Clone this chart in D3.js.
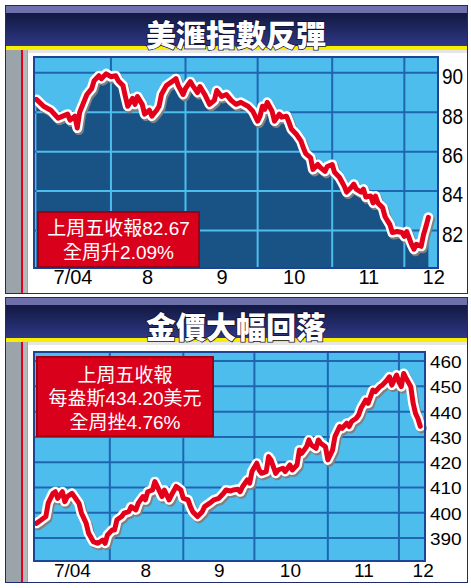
<!DOCTYPE html>
<html>
<head>
<meta charset="utf-8">
<script src="https://cdn.jsdelivr.net/npm/d3@7"></script>
<style>
  body { margin: 0; background: #fff; }
  svg { display: block; }
</style>
</head>
<body>
<div id="chart"></div>
<script>
// ---- data ----
const usdDates = ["7/1","7/4","7/7","7/10","7/12","7/14","7/15","7/17","7/18","7/19","7/21","7/22","7/24","7/25","7/27","7/28","7/30",
  "8/1","8/3","8/4","8/6","8/7","8/8","8/10","8/11","8/12","8/14","8/15","8/17","8/18","8/20","8/21","8/22","8/24","8/27","8/28","8/29","8/31",
  "9/1","9/3","9/4","9/6","9/7","9/9","9/11","9/13","9/14","9/16","9/18","9/20","9/22","9/24","9/27","9/29",
  "10/1","10/2","10/3","10/4","10/5","10/7","10/8","10/10","10/11","10/13","10/14","10/15","10/17","10/19","10/20","10/21","10/23","10/24","10/26","10/27","10/29","10/30",
  "11/1","11/2","11/4","11/6","11/7","11/9","11/10","11/11","11/13","11/14","11/15","11/17","11/18","11/19","11/20","11/22","11/23","11/25","11/26","11/28","11/30",
  "12/1","12/2","12/4","12/5","12/6","12/8","12/9","12/10","12/11"];
const usdValues = [88.65,88.3,88.1,87.7,87.8,87.9,87.6,87.8,87.2,88.0,88.6,88.9,89.2,89.6,89.85,89.7,89.95,
  89.8,89.85,89.6,89.35,88.8,88.3,88.7,88.4,88.8,88.4,87.9,88.1,87.8,88.1,88.3,88.9,89.35,89.6,89.7,89.35,88.9,
  89.2,89.55,89.35,89.0,89.3,88.9,88.4,88.6,89.1,88.8,88.9,88.6,88.4,88.5,88.3,88.05,
  87.55,87.8,88.3,88.15,88.5,88.05,87.55,87.9,87.75,87.8,87.5,87.15,86.9,86.55,86.2,85.9,85.7,85.1,85.35,85.2,85.0,85.25,
  85.35,84.95,84.7,84.25,83.95,84.2,84.35,84.1,83.95,84.1,83.7,83.75,83.4,83.75,83.4,83.15,82.7,82.3,81.9,81.95,81.9,
  81.7,81.95,81.3,81.05,81.3,81.2,81.8,82.2,82.67];

const goldDates = ["7/1","7/3","7/5","7/6","7/8","7/9","7/10","7/12","7/13","7/14","7/16","7/17","7/19","7/20","7/22","7/23","7/25","7/27","7/29","7/30","7/31",
  "8/2","8/3","8/4","8/6","8/7","8/9","8/10","8/12","8/13","8/15","8/16","8/17","8/19","8/20","8/21","8/23","8/24","8/26","8/27","8/29","8/31",
  "9/1","9/3","9/4","9/5","9/7","9/9","9/10","9/12","9/14","9/16","9/18","9/19","9/21","9/22","9/24","9/25","9/26","9/28","9/29","9/30",
  "10/2","10/3","10/4","10/6","10/7","10/8","10/10","10/11","10/13","10/14","10/16","10/17","10/19","10/20","10/21","10/23","10/24","10/25","10/27","10/28","10/29","10/31",
  "11/1","11/3","11/4","11/6","11/7","11/9","11/10","11/11","11/13","11/14","11/15","11/17","11/18","11/20","11/21","11/23","11/24","11/26","11/27","11/28","11/30",
  "12/1","12/2","12/3","12/4","12/6","12/7","12/8","12/9","12/10"];
const goldValues = [395.8,397.1,398.5,403.8,407.7,408.3,405.7,408.3,404.4,406.3,407.7,406.4,403.7,399.9,395.9,392.0,388.6,387.9,389.2,387.9,391.2,
  393.2,393.2,397.2,398.5,399.8,400.4,402.4,401.1,403.8,406.4,405.1,408.3,409.0,412.3,410.4,406.4,409.0,405.1,407.0,410.4,409.0,
  405.7,405.1,402.4,400.4,398.5,400.4,402.4,403.7,405.1,405.7,407.7,409.0,408.6,409.0,409.3,408.3,410.3,413.0,411.7,416.3,
  419.6,416.9,415.6,416.3,422.2,420.9,415.6,416.9,417.6,416.3,418.9,416.9,418.9,424.8,423.5,426.1,428.8,426.8,425.5,428.8,427.5,426.1,
  420.9,424.8,430.1,434.1,433.4,435.4,434.1,436.1,437.4,438.7,441.3,444.6,443.3,448.5,447.9,449.9,450.5,452.5,453.8,450.5,454.5,
  451.8,449.9,455.1,453.2,449.9,443.3,439.3,437.3,434.2];

const usdTicks = [82, 84, 86, 88, 90];
const goldTicks = [390, 400, 410, 420, 430, 440, 450, 460];
const monthLabels = ["7/04", "8", "9", "10", "11", "12"];
const usdLabelDates = ["7/16", "8/16", "9/16", "10/16", "11/16", "12/13"];
const goldLabelDates = ["7/16", "8/16", "9/16", "10/16", "11/16", "12/11"];
const gridDates = ["8/1", "9/1", "10/1", "11/1", "12/1"];

const usdTitle = "美滙指數反彈";
const goldTitle = "金價大幅回落";
const usdNote = ["上周五收報82.67", "全周升2.09%"];
const goldNote = ["上周五收報", "每盎斯434.20美元", "全周挫4.76%"];

const parseDay = d3.timeParse("%m/%d/%Y");
const day = s => parseDay(s + "/2004");

const svg = d3.select("#chart").append("svg")
  .attr("width", 471).attr("height", 588);

// title gradient
const defs = svg.append("defs");
const grad = defs.append("linearGradient").attr("id", "titleGrad")
  .attr("x1", 0).attr("y1", 0).attr("x2", 0).attr("y2", 1);
grad.append("stop").attr("offset", "0%").attr("stop-color", "#121840");
grad.append("stop").attr("offset", "100%").attr("stop-color", "#2f3887");

function drawPanel(opt) {
  const g = svg.append("g").attr("transform", `translate(0,${opt.top})`);
  const H = opt.height;

  // frame + background
  g.append("rect").attr("x", 5.5).attr("y", 0.5).attr("width", 462).attr("height", H)
    .attr("fill", "#fff").attr("stroke", "#1d2a6e");
  // title bar
  g.append("rect").attr("x", 6).attr("y", 1).attr("width", 461).attr("height", 7).attr("fill", "#6d70aa");
  g.append("rect").attr("x", 6).attr("y", 8).attr("width", 461).attr("height", opt.barH - 8).attr("fill", "url(#titleGrad)");
  g.append("rect").attr("x", 6).attr("y", opt.barH).attr("width", 461).attr("height", 4).attr("fill", "#f7ee00");
  g.append("rect").attr("x", 28).attr("y", opt.barH + 4).attr("width", 439).attr("height", 3).attr("fill", "#e6e6e6");
  g.append("text")
    .attr("x", 236).attr("y", opt.barH / 2 + 7)
    .attr("text-anchor", "middle").attr("dominant-baseline", "central")
    .style("font-family", "'Noto Sans CJK TC'").style("font-weight", 900)
    .style("font-size", "30px").attr("fill", "#fff")
    .attr("stroke", "#0e1235").attr("stroke-width", 1.5).style("paint-order", "stroke")
    .text(opt.title);

  // left gray strip with red rule
  g.append("rect").attr("x", 6).attr("y", opt.barH + 4).attr("width", 22).attr("height", H - opt.barH - 4).attr("fill", "#9ba4aa");
  g.append("rect").attr("x", 23).attr("y", opt.barH + 4).attr("width", 4).attr("height", H - opt.barH - 4).attr("fill", "#b3babe");
  g.append("rect").attr("x", 21).attr("y", opt.barH + 4).attr("width", 2).attr("height", H - opt.barH - 4).attr("fill", "#e3001b");

  // plot
  const p = opt.plot;
  const x = d3.scaleTime().domain([day(opt.xStart), day(opt.xEnd)]).range([p.left, p.right]);
  const y = d3.scaleLinear().domain(opt.yDomain).range([p.bottom, p.top]);
  const data = opt.dates.map((d, i) => ({date: day(d), value: opt.values[i]}));

  g.append("rect").attr("x", p.left).attr("y", p.top)
    .attr("width", p.right - p.left).attr("height", p.bottom - p.top).attr("fill", "#4dbdee");

  function grid(sel, color) {
    sel.selectAll(null).data(opt.ticks).enter().append("line")
      .attr("x1", p.left).attr("x2", p.right)
      .attr("y1", d => y(d)).attr("y2", d => y(d))
      .attr("stroke", color).attr("stroke-width", 2);
    sel.selectAll(null).data(gridDates).enter().append("line")
      .attr("x1", d => x(day(d))).attr("x2", d => x(day(d)))
      .attr("y1", p.top).attr("y2", p.bottom)
      .attr("stroke", color).attr("stroke-width", 2);
  }
  grid(g.append("g"), "#1f66b0");

  const area = d3.area().x(d => x(d.date)).y0(p.bottom).y1(d => y(d.value) + 1);
  const clipId = "clip" + opt.top;
  defs.append("clipPath").attr("id", clipId)
    .append("path").attr("d", area(data)).attr("transform", `translate(0,${opt.top})`);

  // dark area with light grid inside it
  const dark = g.append("g").attr("clip-path", `url(#${clipId})`);
  dark.append("rect").attr("x", p.left).attr("y", p.top - 40)
    .attr("width", p.right - p.left).attr("height", p.bottom - p.top + 40).attr("fill", "#195284");
  grid(dark, "#4dbdee");

  const line = d3.line().x(d => x(d.date)).y(d => y(d.value));
  g.append("path").datum(data).attr("d", line)
    .attr("transform", "translate(1.5,2)")
    .attr("fill", "none").attr("stroke", "#808080").attr("stroke-width", 10)
    .attr("stroke-linejoin", "round").attr("stroke-linecap", "round");
  g.append("path").datum(data).attr("d", line)
    .attr("fill", "none").attr("stroke", "#fff").attr("stroke-width", 10)
    .attr("stroke-linejoin", "round").attr("stroke-linecap", "round");
  g.append("path").datum(data).attr("d", line)
    .attr("fill", "none").attr("stroke", "#e3001b").attr("stroke-width", 5)
    .attr("stroke-linejoin", "round").attr("stroke-linecap", "round");

  g.append("rect").attr("x", p.left).attr("y", p.top)
    .attr("width", p.right - p.left).attr("height", p.bottom - p.top)
    .attr("fill", "none").attr("stroke", "#1d4596").attr("stroke-width", 2);

  // y axis on the right
  const yAxis = g.append("g").attr("transform", `translate(${p.right},0)`)
    .call(d3.axisRight(y).tickValues(opt.ticks).tickSize(0).tickPadding(opt.yPad));
  yAxis.select(".domain").remove();
  yAxis.selectAll("text")
    .style("font-family", "'Liberation Sans', Arial").style("font-size", "19px")
    .attr("fill", "#000").attr("dy", opt.yDy)
    .attr("transform", `scale(1,${opt.yScale})`);

  // month labels
  const xAxis = g.append("g").attr("transform", `translate(0,${p.bottom})`)
    .call(d3.axisBottom(x).tickValues(opt.labelDates.map(day))
      .tickFormat((d, i) => monthLabels[i]).tickSize(0).tickPadding(2));
  xAxis.select(".domain").remove();
  xAxis.selectAll("text")
    .style("font-family", "'Liberation Sans', Arial").style("font-size", opt.xFont + "px")
    .attr("fill", "#000");

  // red note box
  const b = opt.box;
  g.append("rect").attr("x", b.x).attr("y", b.y).attr("width", b.w).attr("height", b.h)
    .attr("fill", "#d9001c").attr("stroke", "#9e0014").attr("stroke-width", 2);
  g.selectAll(null).data(opt.note).enter().append("text")
    .attr("x", b.x + b.w / 2).attr("y", (d, i) => b.y + b.first + i * b.step)
    .attr("text-anchor", "middle").attr("dominant-baseline", "central")
    .style("font-family", "'Liberation Sans', 'Noto Sans CJK TC'").style("font-size", "19px")
    .attr("fill", "#fff")
    .text(d => d);
}

drawPanel({
  top: 5, height: 288, barH: 41, title: usdTitle,
  plot: {left: 34, right: 438, top: 52, bottom: 263},
  xStart: "6/30", xEnd: "12/15", yDomain: [80.1, 90.8],
  dates: usdDates, values: usdValues, ticks: usdTicks,
  labelDates: usdLabelDates, yPad: 4, yDy: "0.5em", yScale: 1.14, xFont: 20,
  box: {x: 38, y: 207, w: 161, h: 55, first: 16, step: 24},
  note: usdNote
});

drawPanel({
  top: 297, height: 285, barH: 41, title: goldTitle,
  plot: {left: 34, right: 425, top: 55, bottom: 264},
  xStart: "6/30", xEnd: "12/12", yDomain: [380.9, 463.6],
  dates: goldDates, values: goldValues, ticks: goldTicks,
  labelDates: goldLabelDates, yPad: 5, yDy: "0.38em", yScale: 0.9, xFont: 19,
  box: {x: 37, y: 60, w: 176, h: 79, first: 18, step: 23.5},
  note: goldNote
});
</script>
</body>
</html>
